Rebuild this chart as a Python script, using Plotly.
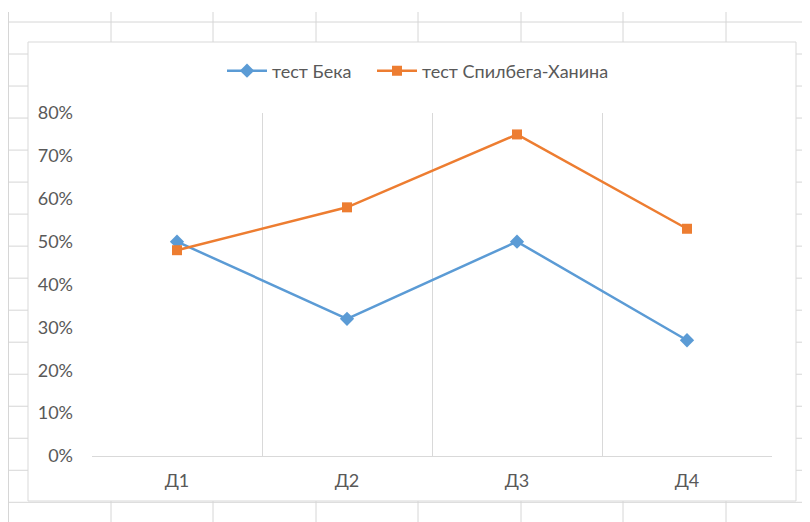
import plotly.graph_objects as go

categories = ["Д1", "Д2", "Д3", "Д4"]
beck = [0.50, 0.32, 0.50, 0.27]
spielberger = [0.48, 0.58, 0.75, 0.53]
series_names = ["тест Бека", "тест Спилбега-Ханина"]
y_ticks = [0, 0.1, 0.2, 0.3, 0.4, 0.5, 0.6, 0.7, 0.8]

# page body has an 8px margin: work in window pixels, shift by OFF
OFF = 8
W, H = 810 - OFF, 522 - OFF
ML, MR, MT, MB = 92 - OFF, 38, 113 - OFF, 66
PW, PH = W - ML - MR, H - MT - MB


def px(x):
    return (x - OFF - ML) / PW


def py(y):
    return (H - MB - (y - OFF)) / PH


FONT = "Lato, Open Sans, sans-serif"
GRID = "#D9D9D9"
SHEET = "#D6D6D6"
TXT = "#595959"

fig = go.Figure()
fig.add_trace(go.Scatter(
    x=categories, y=beck, name=series_names[0], mode="lines+markers",
    line=dict(color="#5B9BD5", width=2.5),
    marker=dict(symbol="diamond", size=11, color="#5B9BD5"),
    legend="legend",
))
fig.add_trace(go.Scatter(
    x=categories, y=spielberger, name=series_names[1], mode="lines+markers",
    line=dict(color="#ED7D31", width=2.5),
    marker=dict(symbol="square", size=10, color="#ED7D31"),
    legend="legend2",
))

shapes = []
# spreadsheet background grid (decoration)
col_lines = [8.5, 111, 213, 316, 418, 521, 623, 726]
row_lines = [22 + 32.02 * k for k in range(16)]
for cx in col_lines:
    shapes.append(dict(type="line", xref="paper", yref="paper",
                       x0=px(cx), x1=px(cx), y0=py(12), y1=py(530),
                       line=dict(color=SHEET, width=1), layer="below"))
for ry in row_lines:
    shapes.append(dict(type="line", xref="paper", yref="paper",
                       x0=px(8), x1=px(820), y0=py(ry), y1=py(ry),
                       line=dict(color=SHEET, width=1), layer="below"))
# chart area box
shapes.append(dict(type="rect", xref="paper", yref="paper",
                   x0=px(28), x1=px(796), y0=py(501), y1=py(42),
                   fillcolor="white", line=dict(color=GRID, width=1), layer="below"))

legend_style = dict(orientation="h", yanchor="middle", y=py(71), xanchor="left",
                    font=dict(size=18, color=TXT), bgcolor="rgba(0,0,0,0)",
                    itemwidth=40)

fig.update_layout(
    width=W, height=H,
    margin=dict(l=ML, r=MR, t=MT, b=MB),
    paper_bgcolor="white", plot_bgcolor="rgba(0,0,0,0)",
    font=dict(family=FONT, size=18, color=TXT),
    shapes=shapes,
    showlegend=True,
    legend=dict(x=px(222), **legend_style),
    legend2=dict(x=px(372), **legend_style),
    xaxis=dict(type="category", range=[-0.5, 3.5], tickson="boundaries",
               showgrid=True, gridcolor=GRID, gridwidth=1,
               showline=True, linecolor=GRID, linewidth=1,
               ticks="", ticklen=0, zeroline=False, ticklabelstandoff=8,
               tickfont=dict(size=18, color=TXT)),
    yaxis=dict(range=[0, 0.8], tickvals=y_ticks, tickformat=".0%",
               showgrid=False, zeroline=False, showline=False, ticks="",
               ticklabelstandoff=18,
               tickfont=dict(size=18, color=TXT)),
)

fig.write_html("out.html")
